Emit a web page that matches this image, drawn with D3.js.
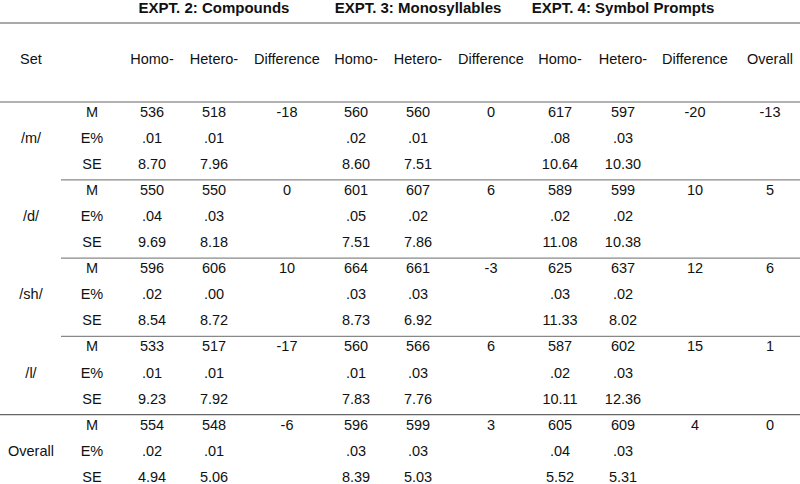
<!DOCTYPE html>
<html>
<head>
<meta charset="utf-8">
<script src="https://cdn.jsdelivr.net/npm/d3@7"></script>
<style>
	body { margin: 0; background: #fff; }
	svg { display: block; font-family: "Liberation Sans", Arial, Helvetica, sans-serif; }
</style>
</head>
<body>
<svg id="svg_main" width="800" height="484"></svg>
<script>
// row labels
var sets = ["/m/", "/d/", "/sh/", "/l/", "Overall"];
var stats = ["M", "E%", "SE"];
var experiments = ["EXPT. 2: Compounds", "EXPT. 3: Monosyllables", "EXPT. 4: Symbol Prompts"];
var subHeads = ["Homo-", "Hetero-", "Difference"];

// EXPT. 2
var e2HomoM = [536, 550, 596, 533, 554],
	e2HomoE = [.01, .04, .02, .01, .02],
	e2HomoSE = [8.70, 9.69, 8.54, 9.23, 4.94];
var e2HetM = [518, 550, 606, 517, 548],
	e2HetE = [.01, .03, .00, .01, .01],
	e2HetSE = [7.96, 8.18, 8.72, 7.92, 5.06];
var e2Diff = [-18, 0, 10, -17, -6];

// EXPT. 3
var e3HomoM = [560, 601, 664, 560, 596],
	e3HomoE = [.02, .05, .03, .01, .03],
	e3HomoSE = [8.60, 7.51, 8.73, 7.83, 8.39];
var e3HetM = [560, 607, 661, 566, 599],
	e3HetE = [.01, .02, .03, .03, .03],
	e3HetSE = [7.51, 7.86, 6.92, 7.76, 5.03];
var e3Diff = [0, 6, -3, 6, 3];

// EXPT. 4
var e4HomoM = [617, 589, 625, 587, 605],
	e4HomoE = [.08, .02, .03, .02, .04],
	e4HomoSE = [10.64, 11.08, 11.33, 10.11, 5.52];
var e4HetM = [597, 599, 637, 602, 609],
	e4HetE = [.03, .02, .02, .03, .03],
	e4HetSE = [10.30, 10.38, 8.02, 12.36, 5.31];
var e4Diff = [-20, 10, 12, 15, 4];

var overall = [-13, 5, 6, 1, 0];

// layout
var colX = [31, 92, 152, 214, 287, 356, 418, 491, 560, 623, 695, 770];
var fmtE = v => d3.format(".2f")(v).replace(/^0/, ""),
	fmtSE = d3.format(".2f");

function main() {
	var svg = d3.select("#svg_main");
	var width = 800;

	// row index -> baseline
	var y = d3.scaleLinear().domain([0, 1]).range([116.5, 142.6]);

	var text = (x, yy, s, bold) => svg.append("text")
		.attr("x", x)
		.attr("y", yy)
		.attr("text-anchor", "middle")
		.attr("font-size", bold ? "15px" : "14.5px")
		.attr("font-weight", bold ? "bold" : "normal")
		.attr("fill", "#111")
		.text(s);

	// header
	experiments.forEach((e, i) => text(colX[3 + i * 3], 13, e, true));
	text(colX[0], 64, "Set");
	for (let i = 0; i < 3; i++)
		subHeads.forEach((h, j) => text(colX[2 + i * 3 + j], 64, h));
	text(colX[11], 64, "Overall");

	// rules
	var hline = (x0, yy, c) => svg.append("line")
		.attr("x1", x0).attr("x2", width)
		.attr("y1", yy).attr("y2", yy)
		.attr("stroke", c).attr("stroke-width", 1.2);
	hline(0, 23, "#555");
	hline(0, 102, "#666");

	var cols = [
		[e2HomoM, e2HomoE, e2HomoSE], [e2HetM, e2HetE, e2HetSE], [e2Diff],
		[e3HomoM, e3HomoE, e3HomoSE], [e3HetM, e3HetE, e3HetSE], [e3Diff],
		[e4HomoM, e4HomoE, e4HomoSE], [e4HetM, e4HetE, e4HetSE], [e4Diff],
		[overall]
	];

	sets.forEach((s, g) => {
		var r0 = g * 3;
		if (g > 0) {
			var last = g == sets.length - 1;
			hline(last ? 0 : 61, y(r0) - 15, last ? "#666" : "#888");
		}
		text(colX[0], y(r0 + 1), s);
		stats.forEach((st, k) => text(colX[1], y(r0 + k), st));
		cols.forEach((c, ci) => {
			var x = colX[2 + ci];
			text(x, y(r0), c[0][g]);
			if (c.length > 1) {
				text(x, y(r0 + 1), fmtE(c[1][g]));
				text(x, y(r0 + 2), fmtSE(c[2][g]));
			}
		});
	});
}

main();
</script>
</body>
</html>
